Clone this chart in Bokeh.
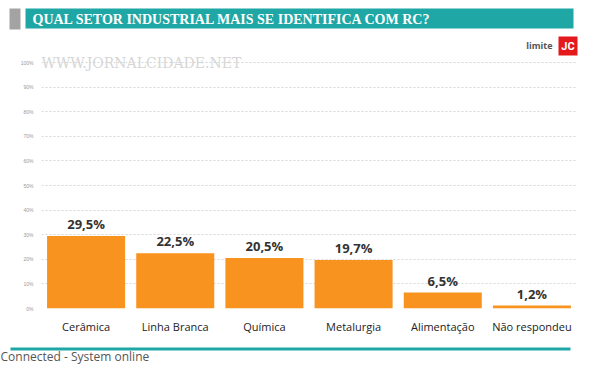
from bokeh.plotting import figure
from bokeh.layouts import column
from bokeh.models import (ColumnDataSource, FactorRange, Range1d, FixedTicker,
                          LabelSet, CustomJSTickFormatter)
from bokeh.embed import file_html
from bokeh.resources import INLINE
from bokeh.core.properties import value

categories = ["Cerâmica", "Linha Branca", "Química", "Metalurgia", "Alimentação", "Não respondeu"]
values = [29.5, 22.5, 20.5, 19.7, 6.5, 1.2]
value_labels = ["29,5%", "22,5%", "20,5%", "19,7%", "6,5%", "1,2%"]
y_ticks = [0, 10, 20, 30, 40, 50, 60, 70, 80, 90, 100]
title_text = "QUAL SETOR INDUSTRIAL MAIS SE IDENTIFICA COM RC?"
watermark_text = "WWW.JORNALCIDADE.NET"
footer_text = "Connected - System online"

TEAL = "#1fa7a5"
ORANGE = "#f7931e"
FONT = "Open Sans"
W = 600


def deco_fig(h):
    f = figure(width=W, height=h, output_backend="svg", toolbar_location=None,
               x_range=Range1d(0, W), y_range=Range1d(h, 0),
               x_axis_location=None, y_axis_location=None,
               min_border=0, frame_align=False)
    f.outline_line_color = None
    f.grid.grid_line_color = None
    f.border_fill_color = "white"
    return f


# ---------- header ----------
header = deco_fig(56)
header.quad(left=9, right=20, top=8, bottom=29, color="#a3a3a3", line_color=None)
header.quad(left=25, right=573, top=8, bottom=28, color=TEAL, line_color=None)
header.text(x=[32], y=[18.5], text=[title_text], text_font=value("Liberation Serif"),
            text_font_size="14px", text_font_style="bold", text_color="white",
            text_baseline="middle")
header.text(x=[552], y=[45], text=["limite"], text_font=value(FONT),
            text_font_size="9px", text_font_style="bold", text_color="#555555",
            text_baseline="middle", text_align="right")
header.quad(left=558, right=577, top=36, bottom=55, color="#e3191b", line_color=None)
header.text(x=[567.5], y=[45.5], text=["JC"], text_font=value("Roboto"),
            text_font_size="11px", text_font_style="bold", text_color="white",
            text_baseline="middle", text_align="center")

# ---------- chart ----------
src = ColumnDataSource(dict(cat=categories, val=values, lab=value_labels))

p = figure(width=W, height=289, output_backend="svg", toolbar_location=None,
           x_range=FactorRange(factors=categories, range_padding=0),
           y_range=Range1d(0, 102.44), frame_align=False,
           min_border_left=41, min_border_right=24, min_border_top=0, min_border_bottom=37)
p.outline_line_color = None
p.background_fill_color = "white"
p.border_fill_color = "white"

p.text(x=[0.0], y=[100.0], text=[watermark_text], text_font=value("DejaVu Serif"),
       text_font_size="14px", text_color="#d6d6d6", text_baseline="middle")

p.vbar(x="cat", top="val", width=0.875, source=src, color=ORANGE, line_color=None)

p.add_layout(LabelSet(x="cat", y="val", text="lab", source=src, text_align="center",
                      text_baseline="bottom", y_offset=3, text_font=value(FONT),
                      text_font_size="13px", text_font_style="bold", text_color="#333333"))

p.yaxis.ticker = FixedTicker(ticks=y_ticks)
p.yaxis.formatter = CustomJSTickFormatter(code="return tick + '%';")
p.yaxis.major_label_text_font_size = "5px"
p.yaxis.major_label_text_color = "#999999"
p.yaxis.axis_line_color = None
p.yaxis.major_tick_line_color = None
p.yaxis.minor_tick_line_color = None
p.yaxis.major_label_standoff = 2

p.xaxis.axis_line_color = None
p.xaxis.major_tick_line_color = None
p.xaxis.major_label_text_font = FONT
p.xaxis.major_label_text_font_size = "11px"
p.xaxis.major_label_text_color = "#222222"
p.xaxis.major_label_standoff = 4

p.xgrid.grid_line_color = None
p.ygrid.grid_line_color = "#d6d6d6"
p.ygrid.grid_line_dash = "2 2"
p.ygrid.grid_line_width = 1

# ---------- footer ----------
footer = deco_fig(21)
footer.quad(left=10, right=570, top=2, bottom=5, color=TEAL, line_color=None)
footer.text(x=[0], y=[11], text=[footer_text], text_font=value(FONT),
            text_font_size="12px", text_color="#555555", text_baseline="middle")

layout = column(header, p, footer, spacing=0)
open("out.html", "w").write(file_html(layout, INLINE))
